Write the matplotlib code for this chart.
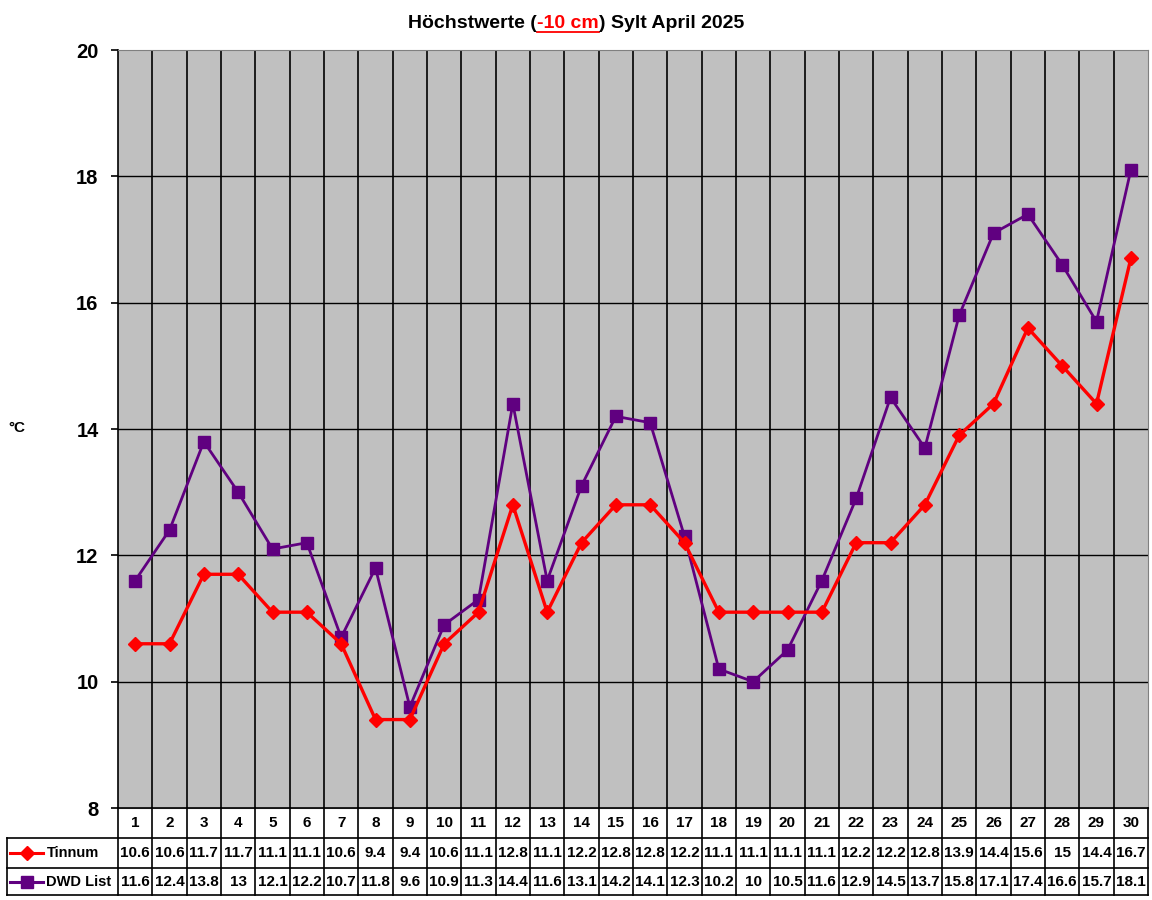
import matplotlib
matplotlib.use('Agg')
import matplotlib.pyplot as plt
from matplotlib.lines import Line2D

plt.rcParams['font.family'] = ['Liberation Sans', 'DejaVu Sans']

days    = list(range(1, 31))
tinnum  = [10.6, 10.6, 11.7, 11.7, 11.1, 11.1, 10.6, 9.4, 9.4, 10.6,
           11.1, 12.8, 11.1, 12.2, 12.8, 12.8, 12.2, 11.1, 11.1, 11.1,
           11.1, 12.2, 12.2, 12.8, 13.9, 14.4, 15.6, 15, 14.4, 16.7]
dwd     = [11.6, 12.4, 13.8, 13, 12.1, 12.2, 10.7, 11.8, 9.6, 10.9,
           11.3, 14.4, 11.6, 13.1, 14.2, 14.1, 12.3, 10.2, 10, 10.5,
           11.6, 12.9, 14.5, 13.7, 15.8, 17.1, 17.4, 16.6, 15.7, 18.1]
series  = [("Tinnum", tinnum, "#ff0000", "D"), ("DWD List", dwd, "#600080", "s")]
yticks  = [8, 10, 12, 14, 16, 18, 20]

W, H = 1152, 900
fig = plt.figure(figsize=(W / 100, H / 100), dpi=100)

# plot area in pixels
x0, x1, y_top, y_bot = 118, 1148, 50, 808
ax = fig.add_axes([x0 / W, 1 - y_bot / H, (x1 - x0) / W, (y_bot - y_top) / H])
ax.set_facecolor("#c0c0c0")
ax.set_xlim(0.5, 30.5)
ax.set_ylim(8, 20)
for d in days[:-1]:
    ax.axvline(d + 0.5, color="black", lw=1.2, zorder=1)
for yv in yticks[1:-1]:
    ax.axhline(yv, color="black", lw=1.0, zorder=1)

ax.plot(days, dwd, color="#600080", lw=2.0, marker="s", ms=8, zorder=3)
ax.plot(days, tinnum, color="#ff0000", lw=2.4, marker="D", ms=7, zorder=4)

ax.set_xticks([])
ax.set_yticks(yticks)
ax.set_yticklabels([str(v) for v in yticks], fontsize=14.5, fontweight="bold")
ax.tick_params(axis="y", length=5, width=1.2, pad=9)
for s in ["top", "right", "bottom"]:
    ax.spines[s].set_color("#808080")
ax.spines["left"].set_color("black")
ax.spines["left"].set_linewidth(1.2)

fig.text(17 / W, 1 - 428 / H, "°C", fontsize=11, fontweight="bold", ha="center", va="center")

# data table below the plot
tx0 = 7
col_w = (x1 - x0) / 30
left_units = (x0 - tx0) / col_w
tab = fig.add_axes([tx0 / W, 1 - 895 / H, (x1 - tx0) / W, (895 - y_bot) / H])
tab.set_xlim(0.5 - left_units, 30.5)
tab.set_ylim(3, 0)
tab.axis("off")
rows = [(808, 838), (838, 868), (868, 895)]
def yu(py):
    return (py - y_bot) / (895 - y_bot) * 3

kw = dict(color="black", lw=1.2, clip_on=False)
# vertical lines
for d in range(31):
    tab.plot([d + 0.5, d + 0.5], [0, 3], **kw)
tab.plot([0.5 - left_units] * 2, [yu(838), 3], **kw)
# horizontal lines
tab.plot([0.5, 30.5], [0, 0], **kw)
for py in (838, 868, 895):
    tab.plot([0.5 - left_units, 30.5], [yu(py)] * 2, **kw)

fs = 11
for i, d in enumerate(days):
    tab.text(d, (yu(808) + yu(838)) / 2, str(d), ha="center", va="center",
             fontsize=fs, fontweight="bold")
for r, (name, vals, col, mk) in enumerate(series):
    yc = (yu(rows[r + 1][0]) + yu(rows[r + 1][1])) / 2
    for d, v in zip(days, vals):
        tab.text(d, yc, f"{v:g}", ha="center", va="center", fontsize=fs, fontweight="bold")
    lx = 0.5 - left_units
    tab.plot([lx + 0.1, lx + 1.05], [yc, yc], color=col, lw=2.2, clip_on=False)
    tab.plot([lx + 0.58], [yc], marker=mk, color=col, ms=8 if mk == "s" else 7, clip_on=False)
    tab.text(lx + 1.15, yc, name, ha="left", va="center", fontsize=10.5, fontweight="bold")

# title with red underlined part
fig.canvas.draw()
r = fig.canvas.get_renderer()
parts = [("Höchstwerte (", "black"), ("-10 cm", "#ff0000"), (") Sylt April 2025", "black")]
tobjs = [fig.text(0, 1 - 23 / H, p, fontsize=14, fontweight="bold", color=c, va="center")
         for p, c in parts]
widths = [t.get_window_extent(r).width for t in tobjs]
xpos = 576 - sum(widths) / 2
for t, w in zip(tobjs, widths):
    t.set_x(xpos / W)
    if t.get_color() == "#ff0000":
        fig.add_artist(Line2D([xpos / W, (xpos + w) / W], [1 - 32 / H] * 2,
                              color="#ff0000", lw=1.3))
    xpos += w

fig.savefig("out.png", dpi=100)
